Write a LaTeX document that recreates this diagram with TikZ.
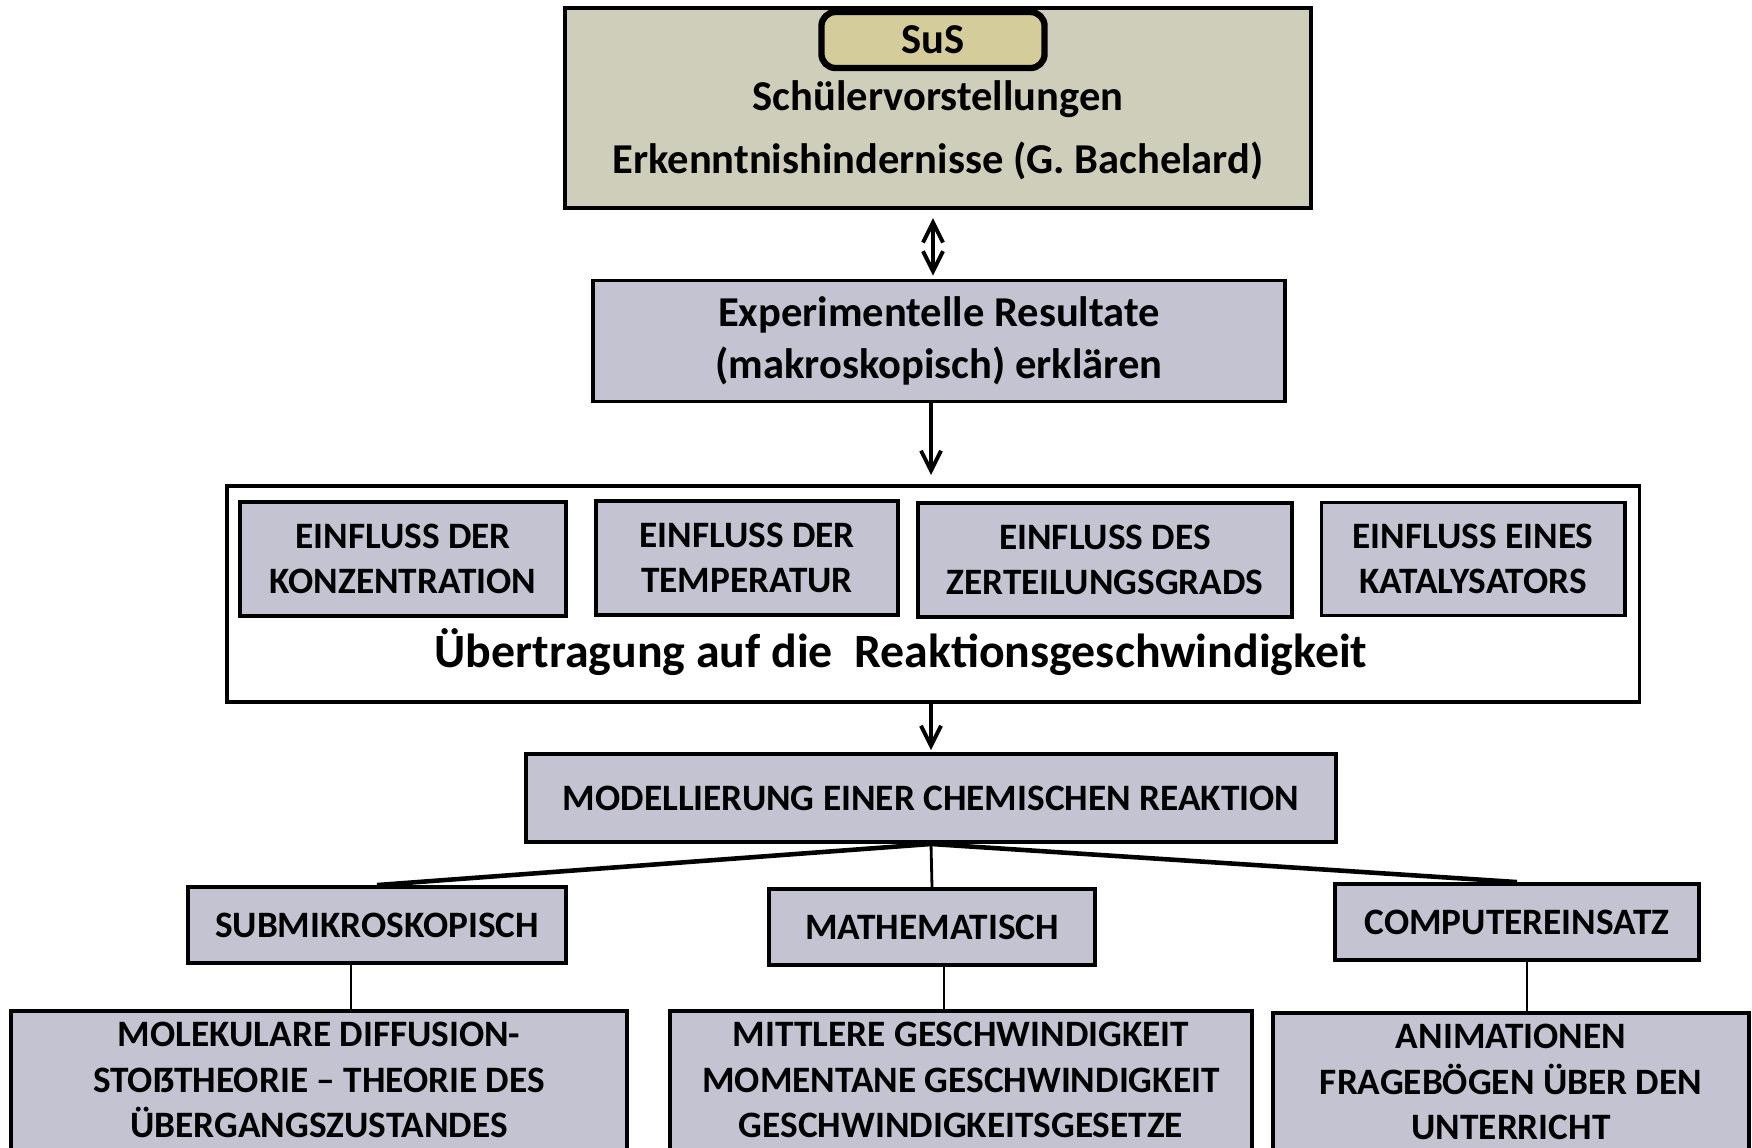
\documentclass[tikz,border=0pt]{standalone}
\usepackage{fontspec}
\setmainfont{Carlito}
\usetikzlibrary{arrows.meta}

\definecolor{boxgray}{RGB}{195,195,209}
\definecolor{topkhaki}{RGB}{207,206,187}
\definecolor{suskhaki}{RGB}{212,204,154}

\tikzset{
  graybox/.style={draw=black,line width=1.1pt,fill=boxgray,align=center,inner sep=0pt,
    font=\bfseries\fontsize{10.6}{13}\selectfont},
  bottomrow/.style={graybox,minimum height=1.5cm,text depth=0.12cm},
  bigtext/.style={font=\bfseries\fontsize{12.1}{14.6}\selectfont,align=center,inner sep=0pt},
  flow/.style={line width=1.1pt,-{Straight Barb[length=0.2cm,width=0.2cm,line width=1.1pt]}},
  twoway/.style={line width=1.1pt,{Straight Barb[length=0.2cm,width=0.2cm,line width=1.1pt]}-{Straight Barb[length=0.2cm,width=0.2cm,line width=1.1pt]}},
  branch/.style={line width=1.3pt},
  stem/.style={line width=0.8pt}
}

\begin{document}
\begin{tikzpicture}[x=0.01cm,y=-0.01cm]
\clip (0,0) rectangle (1752,1147);
\fill[white] (0,0) rectangle (1752,1147);
% the SuS box on top
\node[draw=black,line width=1.2pt,fill=topkhaki,minimum width=7.45cm,minimum height=2cm] (topbox) at (938,108) {};
\node[draw=black,line width=1.8pt,rounded corners=4pt,fill=suskhaki,minimum width=2.23cm,minimum height=0.56cm,bigtext] (sus) at (933,40) {SuS};
\node[bigtext] (vorst) at (938,99) {Schülervorstellungen};
\node[bigtext] (hind) at (938,161) {Erkenntnishindernisse (G. Bachelard)};
% experiments
\node[graybox,bigtext,minimum width=6.92cm,minimum height=1.21cm] (exp) at (939,341)
  {Experimentelle Resultate\\(makroskopisch) erklären};
% the frame with the four influences
\node[draw=black,line width=1.1pt,fill=white,minimum width=14.12cm,minimum height=2.16cm] (frame) at (933,594) {};
\node[graybox,minimum width=3.26cm,minimum height=1.14cm] (konz) at (403,559) {EINFLUSS DER\\KONZENTRATION};
\node[graybox,minimum width=3.02cm,minimum height=1.14cm] (temp) at (747,558) {EINFLUSS DER\\TEMPERATUR};
\node[graybox,minimum width=3.74cm,minimum height=1.14cm] (zert) at (1105,560) {EINFLUSS DES\\ZERTEILUNGSGRADS};
\node[graybox,minimum width=3.03cm,minimum height=1.13cm] (kat) at (1473,559) {EINFLUSS EINES\\KATALYSATORS};
\node[bigtext,font=\bfseries\fontsize{13.6}{16}\selectfont] (uebertr) at (901,652) {Übertragung auf die~ Reaktionsgeschwindigkeit};
% modelling
\node[graybox,minimum width=8.10cm,minimum height=0.88cm] (model) at (931,798) {MODELLIERUNG EINER CHEMISCHEN REAKTION};
\node[graybox,minimum width=3.78cm,minimum height=0.76cm] (sub) at (377,925) {SUBMIKROSKOPISCH};
\node[graybox,minimum width=3.25cm,minimum height=0.76cm] (math) at (932,927) {MATHEMATISCH};
\node[graybox,minimum width=3.63cm,minimum height=0.76cm] (comp) at (1517,922) {COMPUTEREINSATZ};
% the bottom row, cut by the page
\node[bottomrow,minimum width=6.16cm] (mol) at (319,1086)
  {MOLEKULARE DIFFUSION-\\STOẞTHEORIE – THEORIE DES\\ÜBERGANGSZUSTANDES};
\node[bottomrow,minimum width=5.82cm] (mitt) at (961,1086)
  {MITTLERE GESCHWINDIGKEIT\\MOMENTANE GESCHWINDIGKEIT\\GESCHWINDIGKEITSGESETZE};
\node[bottomrow,minimum width=4.76cm] (anim) at (1511,1088)
  {ANIMATIONEN\\FRAGEBÖGEN ÜBER DEN\\UNTERRICHT};
% arrows
\draw[twoway,shorten <=0.08cm,shorten >=0.03cm] (topbox.south -| sus) -- (exp.north -| sus);
\draw[flow,shorten >=0.09cm] (exp.south -| model) -- (frame.north -| model);
\draw[flow,shorten >=0.02cm] (frame.south -| model) -- (model.north);
% branches
\draw[branch] (model.south) -- (sub.north);
\draw[stem] (model.south) -- (math.north);
\draw[branch] (model.south) -- (comp.north);
\draw[stem] ([xshift=-0.26cm]sub.south) -- ([xshift=-0.26cm]sub.south |- mol.north);
\draw[stem] ([xshift=0.12cm]math.south) -- ([xshift=0.12cm]math.south |- mitt.north);
\draw[stem] ([xshift=0.1cm]comp.south) -- ([xshift=0.1cm]comp.south |- anim.north);
\end{tikzpicture}
\end{document}
